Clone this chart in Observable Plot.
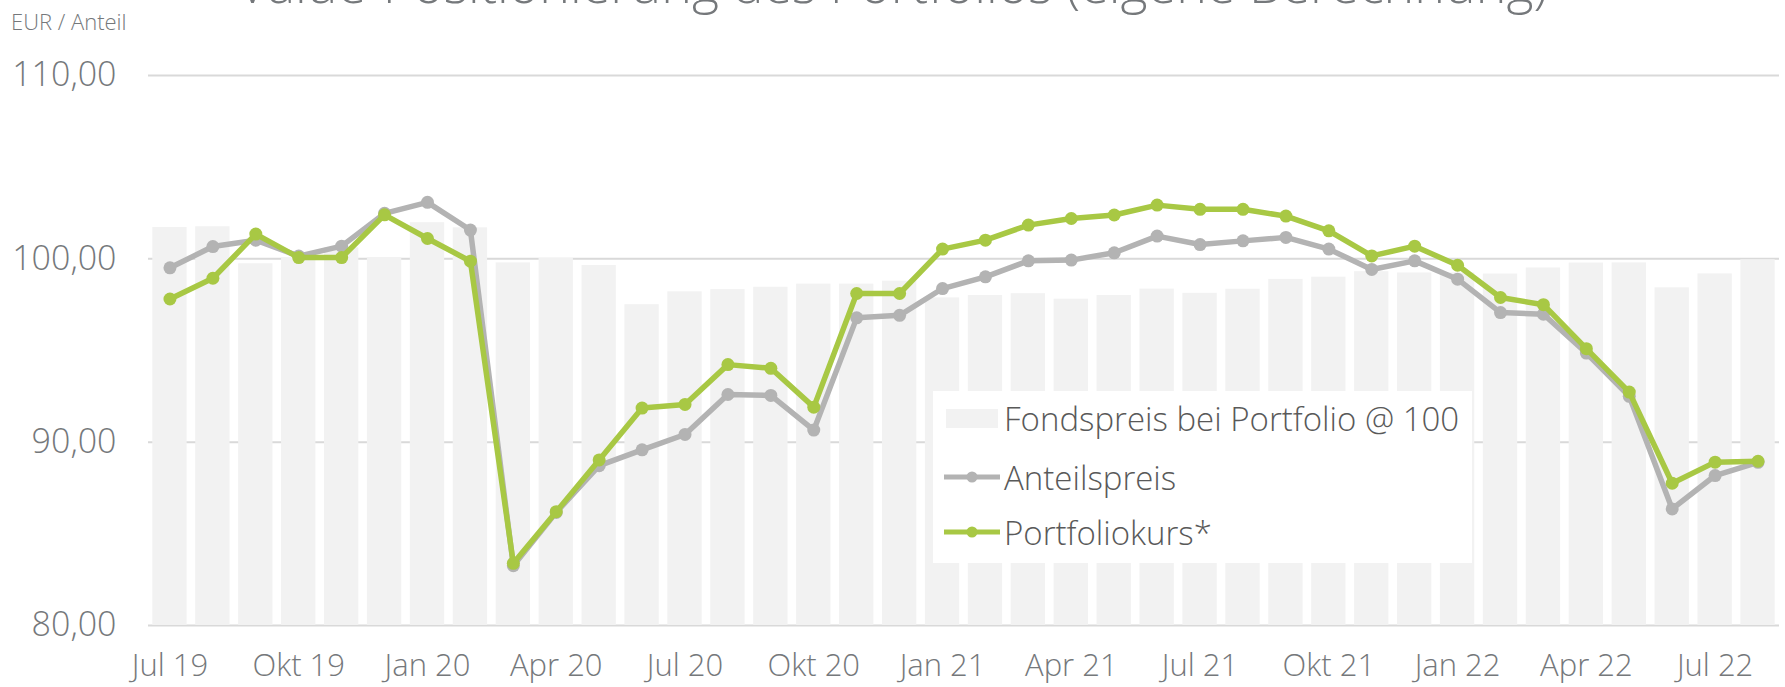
<!DOCTYPE html>
<html>
<head>
<meta charset="utf-8">
<script src="https://cdn.jsdelivr.net/npm/d3@7"></script>
<script src="https://cdn.jsdelivr.net/npm/@observablehq/plot@0.6"></script>
<style>
  html, body { margin: 0; padding: 0; background: #ffffff; }
  #wrap { position: relative; width: 1785px; height: 687px; overflow: hidden; font-family: "Open Sans", sans-serif; }
  #title { position: absolute; left: 0; width: 1785px; text-align: center; top: -47px; font-size: 52px; font-weight: 300; color: #75787b; line-height: 60px; white-space: nowrap; }
  #unit { position: absolute; left: 11px; top: 6px; font-size: 22px; font-weight: 300; color: #75787b; }
  #chart { position: absolute; left: 0; top: 0; }
  #chart svg text { font-weight: 300; }
  #legend { position: absolute; left: 933px; top: 391px; width: 539px; height: 172px; background: #ffffff; }
  .item { position: absolute; left: 10px; height: 40px; display: flex; align-items: center; font-size: 33px; font-weight: 300; color: #595959; white-space: nowrap; }
  .item svg { margin-right: 3px; }
</style>
</head>
<body>
<div id="wrap">
  <div id="title">Value-Positionierung des Portfolios (eigene Berechnung)</div>
  <div id="chart"></div>
  <div id="unit">EUR / Anteil</div>
  <div id="legend"></div>
</div>
<script>
const months = ["Jul 19","Aug 19","Sep 19","Okt 19","Nov 19","Dez 19","Jan 20","Feb 20","Mär 20","Apr 20","Mai 20","Jun 20","Jul 20","Aug 20","Sep 20","Okt 20","Nov 20","Dez 20","Jan 21","Feb 21","Mär 21","Apr 21","Mai 21","Jun 21","Jul 21","Aug 21","Sep 21","Okt 21","Nov 21","Dez 21","Jan 22","Feb 22","Mär 22","Apr 22","Mai 22","Jun 22","Jul 22","Aug 22"];
const tickLabels = ["Jul 19","Okt 19","Jan 20","Apr 20","Jul 20","Okt 20","Jan 21","Apr 21","Jul 21","Okt 21","Jan 22","Apr 22","Jul 22"];
const yTicks = [80, 90, 100, 110];
const fondspreis = [101.71,101.75,99.73,100.06,100.60,100.07,101.97,101.69,99.78,100.02,99.64,97.50,98.20,98.32,98.45,98.62,98.62,98.78,97.87,98.00,98.10,97.80,98.00,98.35,98.12,98.34,98.88,99.00,99.30,99.23,99.23,99.17,99.50,99.77,99.78,98.42,99.18,99.95];
const anteilspreis = [99.51,100.67,101.02,100.15,100.69,102.48,103.08,101.57,83.26,86.17,88.72,89.58,90.42,92.60,92.55,90.66,96.78,96.92,98.38,99.02,99.89,99.93,100.33,101.24,100.78,100.98,101.17,100.53,99.42,99.89,98.89,97.07,96.98,94.86,92.50,86.36,88.18,88.90];
const portfoliokurs = [97.81,98.94,101.35,100.07,100.07,102.40,101.11,99.87,83.39,86.21,89.03,91.86,92.06,94.23,94.03,91.91,98.11,98.11,100.53,101.02,101.84,102.20,102.39,102.93,102.70,102.70,102.33,101.53,100.16,100.69,99.65,97.89,97.50,95.10,92.73,87.76,88.91,88.96];
const seriesNames = ["Fondspreis bei Portfolio @ 100", "Anteilspreis", "Portfoliokurs*"];

const GREEN = "#a8c844", GREY = "#b3b3b3", BAR = "#f2f2f2";
const table = months.map((m, i) => ({month: m, fonds: fondspreis[i], anteil: anteilspreis[i], portfolio: portfoliokurs[i]}));

const chart = Plot.plot({
  width: 1785, height: 687,
  marginLeft: 148, marginRight: 6, marginTop: 75, marginBottom: 62,
  style: {fontFamily: "Open Sans", background: "transparent", color: "#75787b"},
  x: {type: "band", domain: months, paddingInner: 0.2, paddingOuter: 0.1},
  y: {domain: [80, 110]},
  marks: [
    Plot.gridY(yTicks, {stroke: "#d9d9d9", strokeWidth: 2, strokeOpacity: 1}),
    Plot.barY(table, {x: "month", y1: 80, y2: "fonds", fill: BAR}),
    Plot.line(table, {x: "month", y: "anteil", stroke: GREY, strokeWidth: 5.5}),
    Plot.dot(table, {x: "month", y: "anteil", fill: GREY, r: 6.5}),
    Plot.line(table, {x: "month", y: "portfolio", stroke: GREEN, strokeWidth: 5.5}),
    Plot.dot(table, {x: "month", y: "portfolio", fill: GREEN, r: 6.5}),
    Plot.axisY({ticks: yTicks, tickFormat: d => d.toFixed(2).replace(".", ","), tickSize: 0, tickPadding: 32, fontSize: 34, color: "#75787b", label: null}),
    Plot.axisX({ticks: tickLabels, tickSize: 0, tickPadding: 28, fontSize: 31, color: "#75787b", label: null})
  ]
});
document.getElementById("chart").appendChild(chart);

const legend = document.getElementById("legend");
const swatches = [
  `<svg width="58" height="20"><rect x="3" y="1" width="52" height="19" fill="${BAR}"/></svg>`,
  `<svg width="58" height="14"><line x1="1" x2="57" y1="7" y2="7" stroke="${GREY}" stroke-width="5"/><circle cx="29" cy="7" r="5.5" fill="${GREY}"/></svg>`,
  `<svg width="58" height="14"><line x1="1" x2="57" y1="7" y2="7" stroke="${GREEN}" stroke-width="5"/><circle cx="29" cy="7" r="5.5" fill="${GREEN}"/></svg>`
];
const tops = [7, 66, 121];
seriesNames.forEach((name, i) => {
  const d = document.createElement("div");
  d.className = "item";
  d.style.top = tops[i] + "px";
  d.innerHTML = swatches[i] + `<span>${name}</span>`;
  legend.appendChild(d);
});
</script>
</body>
</html>
